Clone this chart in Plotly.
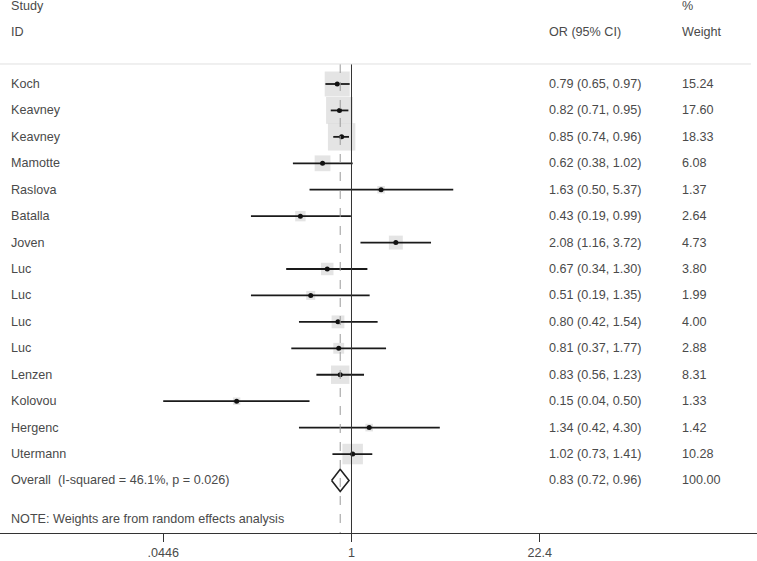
import plotly.graph_objects as go
import math

studies = ["Koch", "Keavney", "Keavney", "Mamotte", "Raslova", "Batalla", "Joven",
           "Luc", "Luc", "Luc", "Luc", "Lenzen", "Kolovou", "Hergenc", "Utermann"]
odds = [0.79, 0.82, 0.85, 0.62, 1.63, 0.43, 2.08, 0.67, 0.51, 0.80, 0.81, 0.83, 0.15, 1.34, 1.02]
ci_low = [0.65, 0.71, 0.74, 0.38, 0.50, 0.19, 1.16, 0.34, 0.19, 0.42, 0.37, 0.56, 0.04, 0.42, 0.73]
ci_high = [0.97, 0.95, 0.96, 1.02, 5.37, 0.99, 3.72, 1.30, 1.35, 1.54, 1.77, 1.23, 0.50, 4.30, 1.41]
weights = [15.24, 17.60, 18.33, 6.08, 1.37, 2.64, 4.73, 3.80, 1.99, 4.00, 2.88, 8.31, 1.33, 1.42, 10.28]

overall_label = "Overall  (I-squared = 46.1%, p = 0.026)"
overall_or = 0.83
overall_low = 0.72
overall_high = 0.96
overall_weight = 100.00

tick_vals = [0.0446, 1, 22.4]
tick_text = [".0446", "1", "22.4"]
note = "NOTE: Weights are from random effects analysis"

TXT = "#4a4a4a"
FONT = dict(family="Liberation Sans, Arial, sans-serif", size=12.6, color=TXT)

n = len(studies)
rows = list(range(1, n + 1))
overall_row = n + 1
xmin = tick_vals[0]

fig = go.Figure()

# weight boxes
fig.add_trace(go.Scatter(
    x=odds, y=rows, mode="markers",
    marker=dict(symbol="square", size=[6.4 * math.sqrt(w) for w in weights],
                color="#d8d8d8", line=dict(width=0)),
    hoverinfo="skip", showlegend=False))

# confidence intervals
cx, cy = [], []
for lo, hi, r in zip(ci_low, ci_high, rows):
    cx += [max(lo, xmin), hi, None]
    cy += [r, r, None]
fig.add_trace(go.Scatter(x=cx, y=cy, mode="lines",
                         line=dict(color="#1a1a1a", width=1.8),
                         hoverinfo="skip", showlegend=False))

# point estimates
fig.add_trace(go.Scatter(x=odds, y=rows, mode="markers",
                         marker=dict(symbol="circle", size=5, color="#111111"),
                         hoverinfo="skip", showlegend=False))

# overall diamond
h = 0.42
fig.add_trace(go.Scatter(
    x=[overall_low, overall_or, overall_high, overall_or, overall_low],
    y=[overall_row, overall_row - h, overall_row, overall_row + h, overall_row],
    mode="lines", line=dict(color="#222222", width=1.6),
    hoverinfo="skip", showlegend=False))

top_row = 0.243
bottom_row = 17.988
# null line
fig.add_trace(go.Scatter(x=[1, 1], y=[top_row, bottom_row], mode="lines",
                         line=dict(color="#333333", width=1),
                         hoverinfo="skip", showlegend=False))
# overall dashed line
fig.add_trace(go.Scatter(x=[overall_or, overall_or], y=[top_row, bottom_row], mode="lines",
                         line=dict(color="#9a9a9a", width=1, dash="dash"),
                         hoverinfo="skip", showlegend=False))

# header separator
fig.add_shape(type="line", xref="paper", yref="y", x0=0, x1=0.992,
              y0=top_row, y1=top_row, line=dict(color="#e0e0e0", width=1))

anns = []
def txt(x, y, s):
    anns.append(dict(x=x, y=y, xref="paper", yref="y", text=s, showarrow=False,
                     xanchor="left", yanchor="middle", font=FONT))

col_study = 9 / 757
col_or = 547 / 757
col_w = 680 / 757

txt(col_study, -1.95, "Study")
txt(col_study, -0.98, "ID")
txt(col_or, -0.98, "OR (95% CI)")
txt(col_w, -1.95, "%")
txt(col_w, -0.98, "Weight")

for r, s, o, lo, hi, w in zip(rows, studies, odds, ci_low, ci_high, weights):
    txt(col_study, r, s)
    txt(col_or, r, f"{o:.2f} ({lo:.2f}, {hi:.2f})")
    txt(col_w, r, f"{w:.2f}")

txt(col_study, overall_row, overall_label)
txt(col_or, overall_row, f"{overall_or:.2f} ({overall_low:.2f}, {overall_high:.2f})")
txt(col_w, overall_row, f"{overall_weight:.2f}")
txt(col_study, 17.46, note)

fig.update_layout(
    width=757, height=561,
    margin=dict(l=0, r=0, t=0, b=28),
    paper_bgcolor="white", plot_bgcolor="white",
    annotations=anns,
    font=FONT,
    xaxis=dict(type="log", range=[-2.5215, 2.909], tickvals=tick_vals, ticktext=tick_text,
               showgrid=False, zeroline=False, showline=True, linecolor="#333333",
               linewidth=1, ticks="outside", ticklen=8, tickcolor="#333333",
               tickfont=FONT, fixedrange=True),
    yaxis=dict(range=[bottom_row, -2.178], visible=False, showgrid=False, zeroline=False,
               fixedrange=True),
)

fig.write_html("out.html", config={"displayModeBar": False, "staticPlot": True},
               post_script="document.body.style.margin='0';document.body.style.overflow='hidden';")
